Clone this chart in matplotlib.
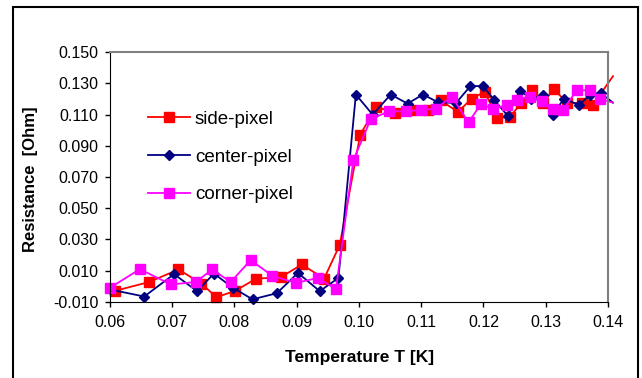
import numpy as np
import matplotlib.pyplot as plt
from matplotlib.patches import Rectangle

plt.rcParams['font.family'] = ['Liberation Sans', 'DejaVu Sans']

# side-pixel (red squares)
side_T = [0.0608, 0.0663, 0.0710, 0.0747, 0.0771, 0.0801, 0.0835, 0.0874, 0.0908, 0.0944,
          0.0969, 0.1002, 0.1028, 0.1058, 0.1083, 0.1111, 0.1131, 0.1159, 0.1181, 0.1202,
          0.1222, 0.1243, 0.1260, 0.1278, 0.1296, 0.1313, 0.1334, 0.1359, 0.1376, 0.1408]
side_R = [-0.0029, 0.0028, 0.0108, 0.0018, -0.0070, -0.0029, 0.0050, 0.0057, 0.0140, 0.0050,
          0.0264, 0.0971, 0.1149, 0.1110, 0.1131, 0.1127, 0.1191, 0.1116, 0.1202, 0.1245,
          0.1078, 0.1084, 0.1174, 0.1255, 0.1174, 0.1264, 0.1174, 0.1174, 0.1163, 0.1345]

# center-pixel (navy diamonds)
center_T = [0.0600, 0.0655, 0.0703, 0.0740, 0.0767, 0.0797, 0.0829, 0.0868, 0.0902, 0.0937,
            0.0967, 0.0995, 0.1022, 0.1051, 0.1078, 0.1103, 0.1127, 0.1156, 0.1179, 0.1199,
            0.1217, 0.1239, 0.1258, 0.1277, 0.1296, 0.1311, 0.1329, 0.1354, 0.1371, 0.1388, 0.1408]
center_R = [-0.0020, -0.0065, 0.0078, -0.0031, 0.0082, -0.0008, -0.0083, -0.0044, 0.0086, -0.0031,
            0.0054, 0.1228, 0.1099, 0.1228, 0.1170, 0.1228, 0.1178, 0.1174, 0.1282, 0.1282,
            0.1195, 0.1091, 0.1253, 0.1200, 0.1226, 0.1097, 0.1200, 0.1161, 0.1228, 0.1238, 0.1176]

# corner-pixel (magenta squares)
corner_T = [0.0600, 0.0648, 0.0698, 0.0738, 0.0764, 0.0794, 0.0826, 0.0861, 0.0899, 0.0934,
            0.0963, 0.0991, 0.1019, 0.1048, 0.1075, 0.1099, 0.1124, 0.1149, 0.1176, 0.1196,
            0.1215, 0.1237, 0.1254, 0.1274, 0.1294, 0.1311, 0.1328, 0.1350, 0.1371, 0.1387, 0.1408]
corner_R = [-0.0009, 0.0110, 0.0012, 0.0028, 0.0108, 0.0028, 0.0168, 0.0067, 0.0022, 0.0054,
            -0.0018, 0.0808, 0.1071, 0.1120, 0.1120, 0.1129, 0.1138, 0.1215, 0.1049, 0.1168,
            0.1136, 0.1159, 0.1195, 0.1215, 0.1187, 0.1136, 0.1131, 0.1255, 0.1255, 0.1200, 0.1176]

x_ticks = [0.06, 0.07, 0.08, 0.09, 0.10, 0.11, 0.12, 0.13, 0.14]
y_ticks = [-0.010, 0.010, 0.030, 0.050, 0.070, 0.090, 0.110, 0.130, 0.150]

fig = plt.figure(figsize=(6.42, 3.78), dpi=100)
ax = fig.add_axes([0.1713, 0.2011, 0.7757, 0.6613])

# outer chart border (bottom edge is cut off in the original)
fig.patches.append(Rectangle((13 / 642, -0.05), 625 / 642, 1 - 7 / 378 + 0.05,
                             transform=fig.transFigure, fill=False, edgecolor='black', lw=1.5))

# the last point of each series is drawn without a marker (runs past the axis)
ax.plot(side_T, side_R, color='#ff0000', lw=1.3, marker='s', ms=6.5, mec='#ff0000',
        markevery=list(range(len(side_T) - 1)), clip_on=False, label='side-pixel')
ax.plot(center_T, center_R, color='#000080', lw=1.3, marker='D', ms=5.5, mec='#000080',
        markevery=list(range(len(center_T) - 1)), clip_on=False, label='center-pixel')
ax.plot(corner_T, corner_R, color='#ff00ff', lw=1.3, marker='s', ms=6.5, mec='#ff00ff',
        markevery=list(range(len(corner_T) - 1)), clip_on=False, label='corner-pixel')

ax.set_xlim(0.06, 0.14)
ax.set_ylim(-0.010, 0.150)
ax.set_xticks(x_ticks)
ax.set_xticklabels([f'{t:.2f}' for t in x_ticks], fontsize=11.5)
ax.set_yticks(y_ticks)
ax.set_yticklabels([f'{t:.3f}' for t in y_ticks], fontsize=11.5)
ax.tick_params(direction='out', length=3.5, width=1)
ax.tick_params(axis='y', pad=5)
ax.tick_params(axis='x', pad=6)

ax.spines['top'].set_color('#808080')
ax.spines['right'].set_color('#808080')
ax.spines['top'].set_linewidth(1.5)
ax.spines['right'].set_linewidth(1.5)

ax.set_xlabel('Temperature T [K]', fontsize=12.5, fontweight='bold')
ax.set_ylabel('Resistance  [Ohm]', fontsize=12, fontweight='bold')
ax.xaxis.set_label_coords(0.501, -0.192)
ax.yaxis.set_label_coords(-0.145, 0.49)

ax.legend(loc='upper left', bbox_to_anchor=(0.076, 0.765), frameon=False, fontsize=13.5,
          handlelength=2.24, handletextpad=0.27, labelspacing=1.1, borderpad=0, borderaxespad=0)

fig.savefig('out.png', dpi=100)
